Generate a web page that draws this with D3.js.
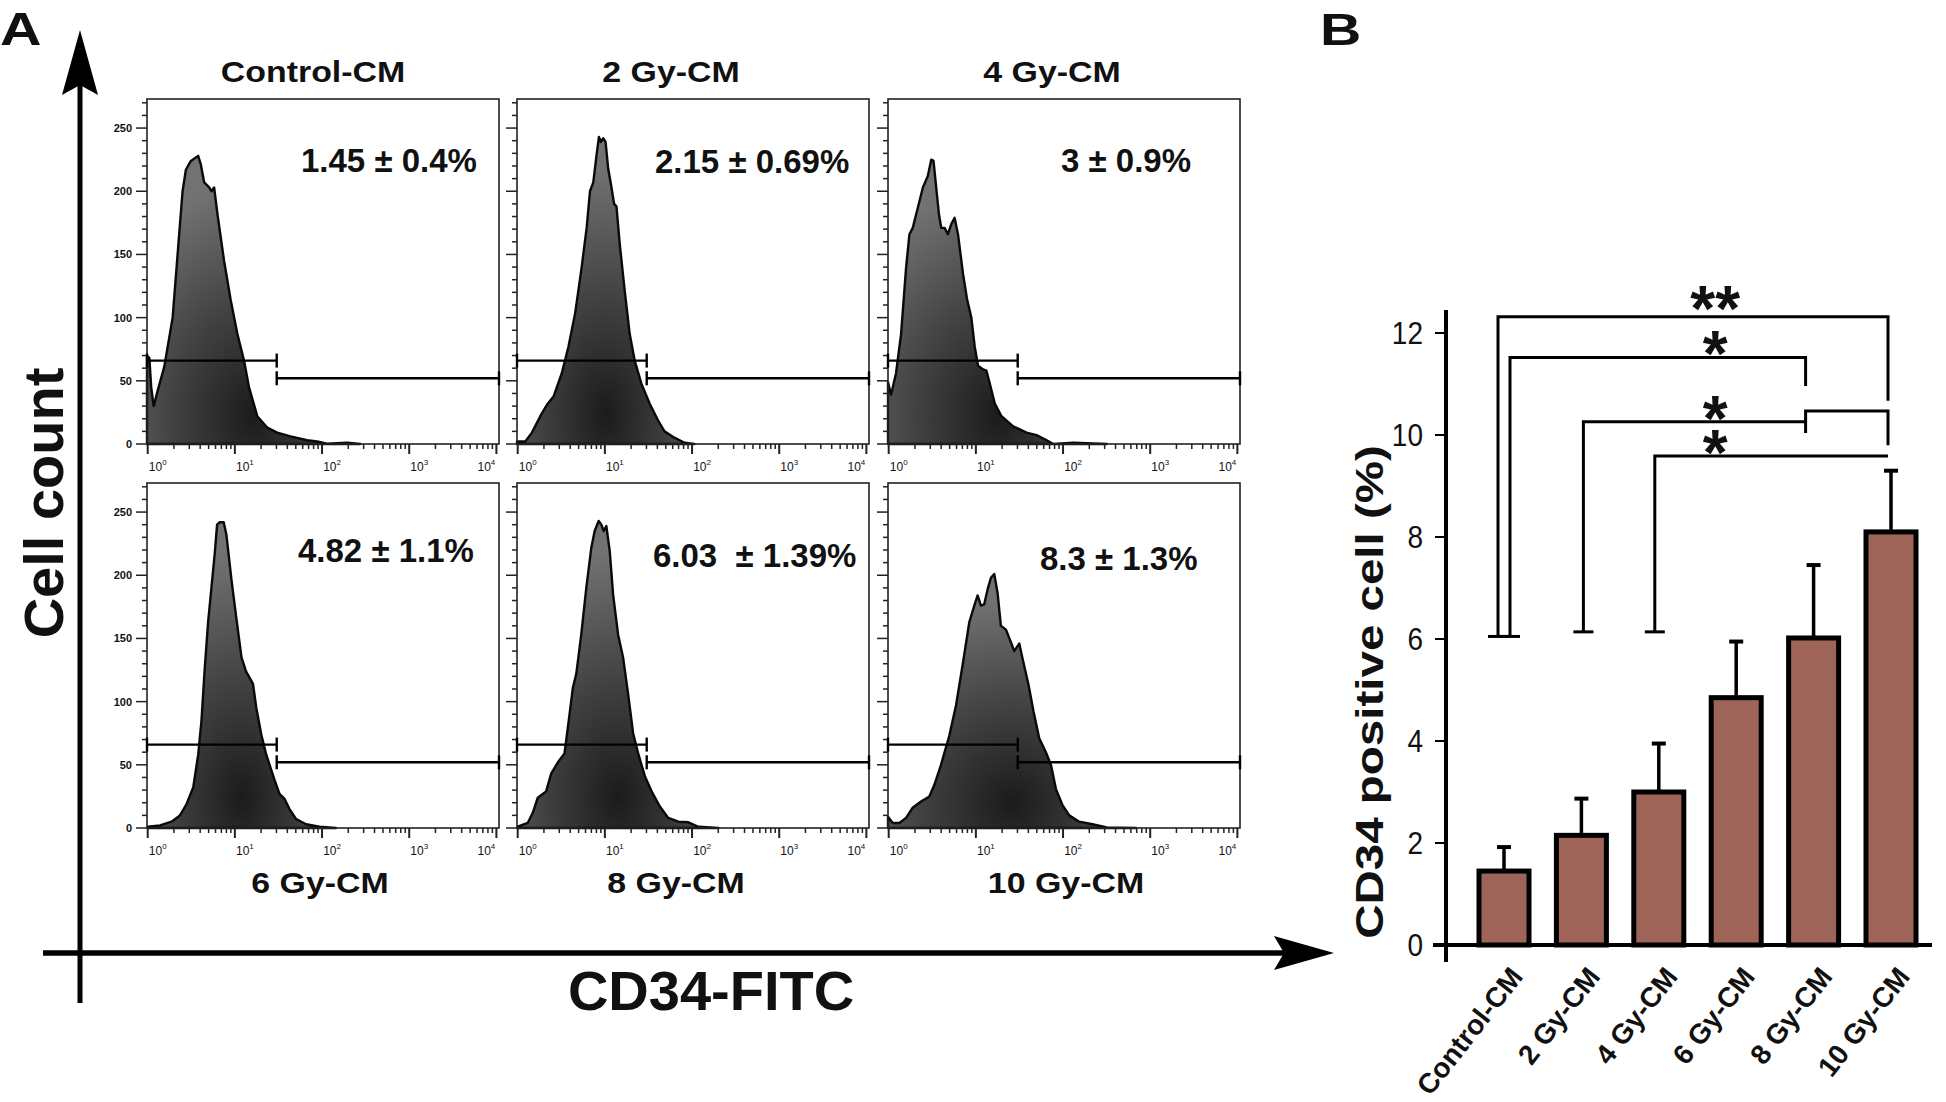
<!DOCTYPE html>
<html>
<head>
<meta charset="utf-8">
<script src="https://cdn.jsdelivr.net/npm/d3@7"></script>
<style>
  body { margin: 0; background: #fff; }
  text { font-family: "Liberation Sans", Arial, sans-serif; fill: #111; }
</style>
</head>
<body>
<svg id="fig" width="1946" height="1102"></svg>
<script>
// ---- data: flow histograms, x = log10(FITC intensity), y = cell count ----
var histTitles = ["Control-CM", "2 Gy-CM", "4 Gy-CM", "6 Gy-CM", "8 Gy-CM", "10 Gy-CM"];
var histPercents = ["1.45 ± 0.4%", "2.15 ± 0.69%", "3 ± 0.9%", "4.82 ± 1.1%", "6.03  ± 1.39%", "8.3 ± 1.3%"];

var histControl = [[-0.008,0],[-0.008,70],[0.019,68],[0.04,45],[0.069,30],[0.114,42],[0.19,61],[0.286,100],[0.343,150],[0.4,200],[0.438,217],[0.495,224],[0.579,228],[0.61,221],[0.648,207],[0.705,203],[0.731,200],[0.762,203],[0.8,182],[0.876,145],[0.952,114],[1.029,87],[1.105,66],[1.162,45],[1.257,22],[1.371,13],[1.486,9],[1.638,6],[1.829,3],[1.943,2],[2.057,0.3],[2.286,1],[2.438,0]];
var hist2Gy = [[-0.008,0],[-0.008,2],[0.087,2],[0.163,9],[0.259,22],[0.335,31],[0.411,37.5],[0.506,56],[0.582,77],[0.658,103],[0.734,140],[0.791,171],[0.829,200],[0.867,207],[0.905,229],[0.932,243],[0.954,239],[0.981,242],[1.008,239],[1.038,218],[1.076,203],[1.106,190],[1.133,188],[1.171,158],[1.228,121],[1.285,87],[1.342,66],[1.418,48],[1.513,32],[1.608,19],[1.684,10],[1.798,5],[1.913,1],[2.027,0]];
var hist4Gy = [[-0.008,0],[-0.008,49],[0.027,39],[0.084,56],[0.142,87],[0.2,140],[0.238,166],[0.276,171],[0.334,187],[0.392,203],[0.449,212],[0.488,225],[0.514,224],[0.545,203],[0.576,182],[0.603,171],[0.641,171],[0.679,166],[0.718,174],[0.756,179],[0.795,166],[0.852,135],[0.898,115],[0.948,100],[0.987,77],[1.025,62],[1.083,59],[1.121,58],[1.159,48],[1.217,32],[1.294,22],[1.428,14],[1.582,9],[1.697,7],[1.812,3],[1.889,0],[2.119,1],[2.503,0]];
var hist6Gy = [[0,0],[0,1],[0.141,2],[0.274,5],[0.37,10],[0.446,19],[0.522,32],[0.579,58],[0.617,85],[0.655,127],[0.693,163],[0.731,190],[0.77,218],[0.796,240],[0.827,242],[0.872,242],[0.903,232],[0.96,197],[1.017,166],[1.076,135],[1.128,124],[1.208,114],[1.246,95],[1.303,74],[1.36,58],[1.455,38],[1.512,27],[1.57,23],[1.627,15],[1.703,7],[1.817,3],[1.97,1],[2.16,0]];
var hist8Gy = [[0,0],[0,1],[0.115,4],[0.173,12],[0.23,24],[0.326,29],[0.384,43],[0.461,52],[0.537,59],[0.595,90],[0.633,111],[0.672,122],[0.729,153],[0.787,190],[0.845,222],[0.883,235],[0.929,243],[0.96,240],[0.987,235],[1.017,239],[1.056,219],[1.094,185],[1.152,153],[1.209,135],[1.267,106],[1.324,75],[1.382,59],[1.459,41],[1.536,29],[1.631,17],[1.727,8],[1.843,5],[1.958,4.5],[2.073,1],[2.303,0]];
var hist10Gy = [[-0.008,0],[-0.008,9],[0.046,4],[0.122,4],[0.199,8],[0.275,16],[0.371,21],[0.466,25],[0.523,34],[0.6,50],[0.695,73],[0.772,97],[0.848,129],[0.925,163],[0.982,176],[1.02,184],[1.058,176],[1.096,177],[1.135,189],[1.173,198],[1.211,201],[1.249,186],[1.287,160],[1.345,157],[1.402,147],[1.44,140],[1.498,146],[1.536,134],[1.605,113],[1.662,92],[1.727,71],[1.803,60],[1.861,50],[1.918,31],[1.994,18],[2.071,10],[2.185,5],[2.338,3],[2.502,0.5],[2.835,0]];
var histograms = [histControl, hist2Gy, hist4Gy, hist6Gy, hist8Gy, hist10Gy];

// gate markers (log10 boundary, counts where the two gate bars sit)
var gateSplit = 1.48;
var gateCounts = [66, 52];
var countTicks = d3.range(0, 271, 10);
var decades = [0, 1, 2, 3, 4];

// ---- data: bar chart ----
var barCats = ["Control-CM", "2 Gy-CM", "4 Gy-CM", "6 Gy-CM", "8 Gy-CM", "10 Gy-CM"];
var barMeans = [1.45, 2.15, 3.0, 4.85, 6.02, 8.1];
var barSD = [0.47, 0.72, 0.95, 1.1, 1.43, 1.2];
var barTicks = [0, 2, 4, 6, 8, 10, 12];
// significance brackets: from/to category, top value, the ends' lower values
var sigBrackets = [
  { from: "Control-CM", to: "10 Gy-CM", top: 12.32, fromEnd: 6.05, toEnd: 10.67, label: "**" },
  { from: "Control-CM", to: "8 Gy-CM",  top: 11.52, fromEnd: 6.05, toEnd: 10.96, label: "*" },
  { from: "2 Gy-CM",    to: "8 Gy-CM",  top: 10.26, fromEnd: 6.14, toEnd: 10.04, label: "*" },
  { from: "8 Gy-CM",    to: "10 Gy-CM", top: 10.47, fromEnd: 10.26, toEnd: 9.8, label: "" },
  { from: "4 Gy-CM",    to: "10 Gy-CM", top: 9.59, fromEnd: 6.14, toEnd: 9.59, label: "*" }
];

// ---- layout (positions kept apart from the data) ----
var panelW = 352, panelH = 345;
var colX = [147, 517, 888], rowY = [99, 483];
var titleDx = [-10, -22, -12, -3, -17, 2];
var pctPos = [[154, 73], [138, 74], [173, 73], [151, 79], [136, 84], [152, 87]];
var bracketDx = [[-6, -3], [6, -8], [2, -8], [-8, -3], [-4, -3]];

var svg = d3.select("#fig");
var defs = svg.append("defs");

var grad = defs.append("radialGradient").attr("id", "histFill")
  .attr("cx", 0.5).attr("cy", 0.9).attr("r", 0.8);
grad.append("stop").attr("offset", "0%").attr("stop-color", "#1b1b1b");
grad.append("stop").attr("offset", "50%").attr("stop-color", "#444");
grad.append("stop").attr("offset", "100%").attr("stop-color", "#727272");

var x = d3.scaleLinear().domain([-0.008, 4.03]).range([0, panelW]);
var y = d3.scaleLinear().domain([0, 273]).range([panelH, 0]);

var area = d3.area()
  .x(function(d) { return x(d[0]); })
  .y0(y(0))
  .y1(function(d) { return y(d[1]); });

histograms.forEach(function(h, i) {
  var col = i % 3, row = Math.floor(i / 3);
  var g = svg.append("g")
    .attr("transform", "translate(" + colX[col] + "," + rowY[row] + ")");

  g.append("path").datum(h)
    .attr("d", area)
    .attr("fill", "url(#histFill)")
    .attr("stroke", "#0a0a0a")
    .attr("stroke-width", 2.4)
    .attr("stroke-linejoin", "round");

  g.append("rect")
    .attr("width", panelW).attr("height", panelH)
    .attr("fill", "none").attr("stroke", "#222").attr("stroke-width", 1.6);

  // count ticks on the left
  g.selectAll(".yt").data(countTicks).enter().append("line")
    .attr("x1", function(d) { return d % 50 === 0 ? -11 : -5; })
    .attr("x2", 0)
    .attr("y1", function(d) { return y(d); })
    .attr("y2", function(d) { return y(d); })
    .attr("stroke", "#222").attr("stroke-width", 1.5);

  if (col === 0) {
    g.selectAll(".yl").data(countTicks.filter(function(d) { return d % 50 === 0; }))
      .enter().append("text")
      .attr("x", -15).attr("y", function(d) { return y(d) + 4; })
      .attr("text-anchor", "end")
      .attr("font-size", 11).attr("font-weight", "bold")
      .attr("fill", "#333")
      .text(function(d) { return d; });
  }

  // log ticks along the bottom
  var minor = [];
  decades.slice(0, 4).forEach(function(k) {
    d3.range(2, 10).forEach(function(m) { minor.push(k + Math.log10(m)); });
  });
  g.selectAll(".xm").data(minor).enter().append("line")
    .attr("x1", function(d) { return x(d); }).attr("x2", function(d) { return x(d); })
    .attr("y1", panelH).attr("y2", panelH + 5)
    .attr("stroke", "#222").attr("stroke-width", 1.5);
  g.selectAll(".xM").data(decades).enter().append("line")
    .attr("x1", function(d) { return x(d); }).attr("x2", function(d) { return x(d); })
    .attr("y1", panelH).attr("y2", panelH + 10)
    .attr("stroke", "#222").attr("stroke-width", 2);

  var xl = g.selectAll(".xl").data(decades).enter().append("text")
    .attr("x", function(d) { return x(d) + (d < 4 ? 10 : -10); })
    .attr("y", panelH + 27)
    .attr("text-anchor", "middle")
    .attr("font-size", 12)
    .attr("fill", "#333");
  xl.append("tspan").text("10");
  xl.append("tspan").attr("dy", -6).attr("font-size", 8).text(function(d) { return d; });

  // gates
  var gates = [
    { a: x.domain()[0], b: gateSplit, c: gateCounts[0] },
    { a: gateSplit, b: x.domain()[1], c: gateCounts[1] }
  ];
  gates.forEach(function(gt) {
    var gy = y(gt.c);
    g.append("line").attr("x1", x(gt.a)).attr("x2", x(gt.b)).attr("y1", gy).attr("y2", gy)
      .attr("stroke", "#000").attr("stroke-width", 2.4);
    [gt.a, gt.b].forEach(function(e) {
      g.append("line").attr("x1", x(e)).attr("x2", x(e)).attr("y1", gy - 7).attr("y2", gy + 7)
        .attr("stroke", "#000").attr("stroke-width", 2.4);
    });
  });

  // titles and percentages
  var ty = row === 0 ? -17 : panelH + 65;
  g.append("text")
    .attr("transform", "translate(" + (panelW / 2 + titleDx[i]) + "," + ty + ") scale(1.13,1)")
    .attr("text-anchor", "middle")
    .attr("font-size", 30).attr("font-weight", "bold")
    .text(histTitles[i]);

  g.append("text")
    .attr("x", pctPos[i][0]).attr("y", pctPos[i][1])
    .attr("font-size", 33).attr("font-weight", "bold")
    .style("white-space", "pre")
    .text(histPercents[i]);
});

// big arrows of panel A
svg.append("line").attr("x1", 80).attr("x2", 80).attr("y1", 1003).attr("y2", 70)
  .attr("stroke", "#000").attr("stroke-width", 5);
svg.append("path").attr("d", "M80,30 L98,95 L80,85 L62,95 Z").attr("fill", "#000");
svg.append("line").attr("x1", 43).attr("x2", 1300).attr("y1", 953).attr("y2", 953)
  .attr("stroke", "#000").attr("stroke-width", 5.5);
svg.append("path").attr("d", "M1334,953 L1274,936 L1284,953 L1274,970 Z").attr("fill", "#000");

svg.append("text")
  .attr("transform", "translate(63,503) rotate(-90)")
  .attr("text-anchor", "middle")
  .attr("font-size", 56).attr("font-weight", "bold")
  .text("Cell count");
svg.append("text")
  .attr("x", 711).attr("y", 1010)
  .attr("text-anchor", "middle")
  .attr("font-size", 56).attr("font-weight", "bold")
  .text("CD34-FITC");

svg.append("text").attr("transform", "translate(0,45) scale(1.25,1)")
  .attr("font-size", 46).attr("font-weight", "bold").text("A");
svg.append("text").attr("transform", "translate(1320,45) scale(1.3,1)")
  .attr("font-size", 44).attr("font-weight", "bold").text("B");

// ---- panel B: bar chart ----
var bx = d3.scalePoint().domain(barCats).range([1504, 1891]);
var by = d3.scaleLinear().domain([0, 12]).range([945, 333]);
var barW = 50;

var gb = svg.append("g");

// brackets
sigBrackets.forEach(function(b, i) {
  var x1 = bx(b.from) + bracketDx[i][0], x2 = bx(b.to) + bracketDx[i][1];
  var p = d3.path();
  p.moveTo(x1, by(b.fromEnd));
  p.lineTo(x1, by(b.top));
  p.lineTo(x2, by(b.top));
  p.lineTo(x2, by(b.toEnd));
  gb.append("path").attr("d", p.toString())
    .attr("fill", "none").attr("stroke", "#000").attr("stroke-width", 3);
  if (b.fromEnd < 7) {
    gb.append("line").attr("x1", x1 - 10).attr("x2", x1 + 10)
      .attr("y1", by(b.fromEnd)).attr("y2", by(b.fromEnd))
      .attr("stroke", "#000").attr("stroke-width", 3);
  }
  if (b.label) {
    var cy = by(b.top) - (b.label === "**" ? 22 : 17);
    gb.append("text")
      .attr("x", bx("6 Gy-CM") - 21).attr("y", cy + 36)
      .attr("text-anchor", "middle")
      .attr("font-size", 64).attr("font-weight", "bold")
      .text(b.label);
  }
});

// bars
gb.selectAll(".bar").data(barCats).enter().append("rect")
  .attr("x", function(d) { return bx(d) - barW / 2; })
  .attr("y", function(d, i) { return by(barMeans[i]); })
  .attr("width", barW)
  .attr("height", function(d, i) { return by(0) - by(barMeans[i]); })
  .attr("fill", "#9e6458")
  .attr("stroke", "#000").attr("stroke-width", 5);

// error bars (upper half only)
gb.selectAll(".err").data(barCats).enter().append("line")
  .attr("x1", function(d) { return bx(d); }).attr("x2", function(d) { return bx(d); })
  .attr("y1", function(d, i) { return by(barMeans[i]) - 2; })
  .attr("y2", function(d, i) { return by(barMeans[i] + barSD[i]); })
  .attr("stroke", "#000").attr("stroke-width", 3.5);
gb.selectAll(".cap").data(barCats).enter().append("line")
  .attr("x1", function(d) { return bx(d) - 7; }).attr("x2", function(d) { return bx(d) + 7; })
  .attr("y1", function(d, i) { return by(barMeans[i] + barSD[i]); })
  .attr("y2", function(d, i) { return by(barMeans[i] + barSD[i]); })
  .attr("stroke", "#000").attr("stroke-width", 4);

// axes
gb.append("line").attr("x1", 1446).attr("x2", 1446).attr("y1", 310).attr("y2", 962)
  .attr("stroke", "#000").attr("stroke-width", 4);
gb.append("line").attr("x1", 1433).attr("x2", 1932).attr("y1", by(0)).attr("y2", by(0))
  .attr("stroke", "#000").attr("stroke-width", 4);
gb.selectAll(".bt").data(barTicks).enter().append("line")
  .attr("x1", 1435).attr("x2", 1446)
  .attr("y1", function(d) { return by(d); }).attr("y2", function(d) { return by(d); })
  .attr("stroke", "#000").attr("stroke-width", 2);
gb.selectAll(".bl").data(barTicks).enter().append("text")
  .attr("transform", function(d) { return "translate(1423," + (by(d) + 11) + ") scale(1,1.15)"; })
  .attr("text-anchor", "end")
  .attr("font-size", 28)
  .text(function(d) { return d; });

gb.selectAll(".cl").data(barCats).enter().append("text")
  .attr("transform", function(d) {
    return "translate(" + (bx(d) + 20) + ",977) rotate(-52)";
  })
  .attr("text-anchor", "end")
  .attr("font-size", 28).attr("font-weight", "bold")
  .text(function(d) { return d; });

gb.append("text")
  .attr("transform", "translate(1383,692) rotate(-90) scale(1.25,1)")
  .attr("text-anchor", "middle")
  .attr("font-size", 38).attr("font-weight", "bold")
  .text("CD34 positive cell (%)");
</script>
</body>
</html>
